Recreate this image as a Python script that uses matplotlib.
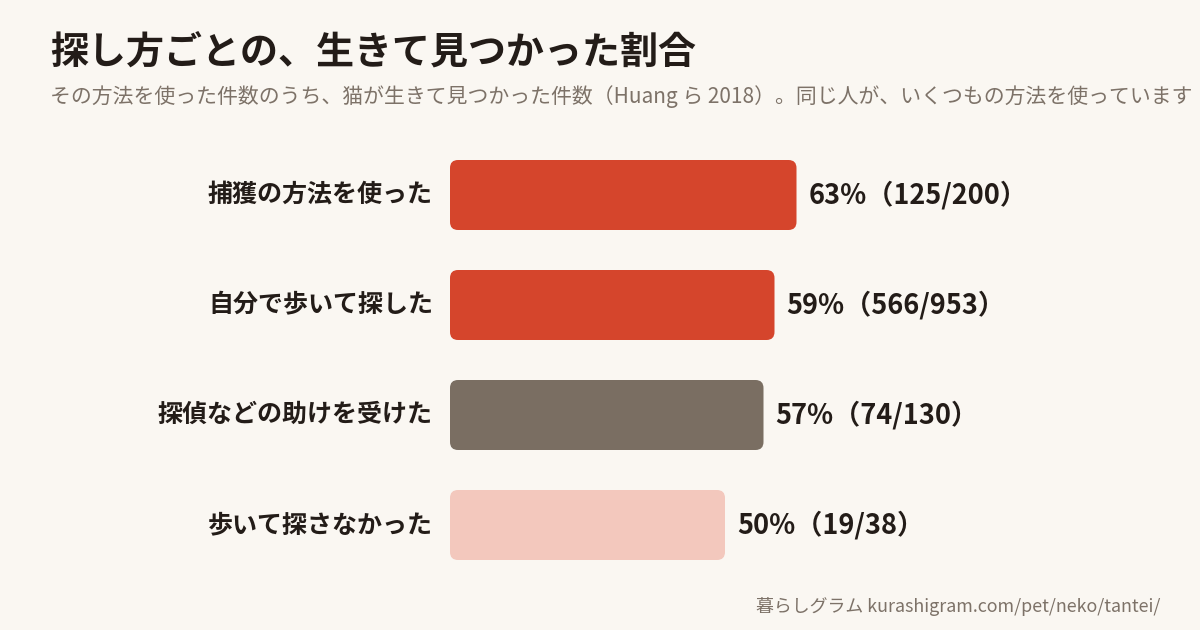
import matplotlib
matplotlib.use("Agg")
import matplotlib.pyplot as plt
from matplotlib.patches import FancyBboxPatch

plt.rcParams['font.family'] = ['Noto Sans CJK JP', 'DejaVu Sans']

# data
categories = ["捕獲の方法を使った", "自分で歩いて探した", "探偵などの助けを受けた", "歩いて探さなかった"]
percents = [63, 59, 57, 50]
found = [125, 566, 74, 19]
totals = [200, 953, 130, 38]
colors = ["#d5452c", "#d5452c", "#7a6e62", "#f3c8bd"]

bg = "#faf7f2"
dark = "#231c18"
grey = "#7d7268"

W, H = 1200, 630
fig = plt.figure(figsize=(12, 6.3), dpi=100, facecolor=bg)

# axes placed in pixel terms: x 450..1000, y 140..580
ax = fig.add_axes([450 / W, 1 - 580 / H, 550 / W, 440 / H])
ax.set_facecolor(bg)
ax.set_xlim(0, 100)
ax.set_ylim(len(categories) - 0.5, -0.5)
ax.axis("off")

bar_h = 70 / 110
px_x = 100 / 550   # x data units per pixel
px_y = 1 / 110     # y data units per pixel
radius = 8 * px_x

for i, (cat, p, f, t, c) in enumerate(zip(categories, percents, found, totals, colors)):
    box = FancyBboxPatch((0, i - bar_h / 2), p, bar_h,
                         boxstyle=f"round,pad=0,rounding_size={radius}",
                         mutation_aspect=px_y / px_x,
                         facecolor=c, edgecolor="none")
    ax.add_patch(box)
    ax.text(-17 * px_x, i, cat, ha="right", va="center", fontsize=18,
            fontweight="bold", color=dark, clip_on=False)
    ax.text(p + 12 * px_x, i, f"{p}%（{f}/{t}）", ha="left", va="center",
            fontsize=19.5, fontweight="bold", color=dark, clip_on=False)

fig.text(50 / W, 1 - 53 / H, "探し方ごとの、生きて見つかった割合", ha="left", va="center",
         fontsize=27.4, fontweight="bold", color=dark)
fig.text(50 / W, 1 - 97 / H,
         "その方法を使った件数のうち、猫が生きて見つかった件数（Huang ら 2018）。同じ人が、いくつもの方法を使っています",
         ha="left", va="center", fontsize=15, color=grey)
fig.text(1160 / W, 1 - 606 / H, "暮らしグラム kurashigram.com/pet/neko/tantei/",
         ha="right", va="center", fontsize=12.9, color=grey)

fig.savefig("out.png", dpi=100, facecolor=bg)
